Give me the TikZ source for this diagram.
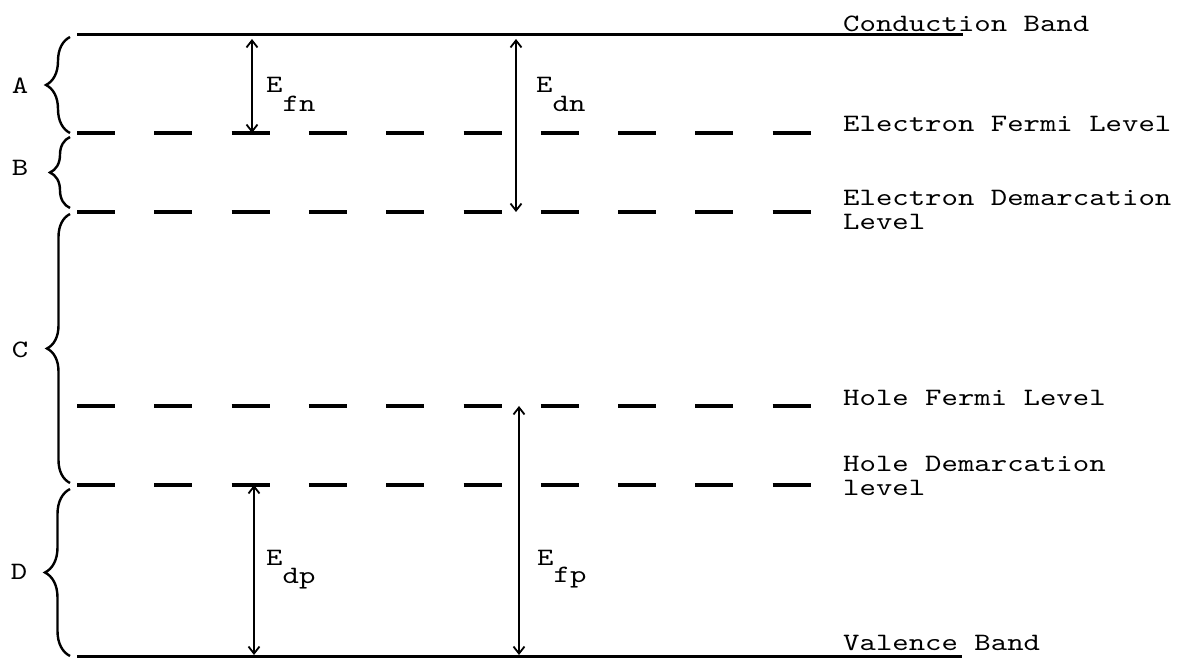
\documentclass[tikz,border=0pt]{standalone}
\usepackage{fontspec}
\newfontfamily\tw{lmmono10-regular.otf}[FakeStretch=1.25]
\usetikzlibrary{arrows.meta,decorations.pathreplacing}
\tikzset{
  band/.style={line width=3pt},
  level/.style={line width=3.6pt, dash pattern=on 38pt off 39.3pt},
  gap/.style={line width=2.2pt, {Straight Barb[length=7pt,width=11pt,line width=1.8pt]}-{Straight Barb[length=7pt,width=11pt,line width=1.8pt]}},
  grp/.style={line width=2.4pt, decorate, decoration={brace, amplitude=#1}},
  lab/.style={font=\fontsize{25}{24}\selectfont\tw, inner sep=0pt, anchor=base west, align=left},
  sym/.style={font=\fontsize{25}{24}\selectfont\tw, inner sep=0pt, anchor=base west},
  let/.style={font=\fontsize{25}{24}\selectfont\tw, inner sep=0pt},
}
\begin{document}
\begin{tikzpicture}[x=1pt,y=-1pt]
\useasboundingbox (0,0) rectangle (1195,660);
% band edges and levels
\coordinate (cbL) at (77,35);  \coordinate (cbR) at (963,35);
\coordinate (efL) at (77,133); \coordinate (efR) at (811,133);
\coordinate (edL) at (77,212); \coordinate (edR) at (811,212);
\coordinate (hfL) at (77,406); \coordinate (hfR) at (811,406);
\coordinate (hdL) at (77,485); \coordinate (hdR) at (811,485);
\coordinate (vbL) at (77,656); \coordinate (vbR) at (962,656);
\draw[band] (cbL) -- (cbR);
\draw[level] (efL) -- (efR);
\draw[level] (edL) -- (edR);
\draw[level] (hfL) -- (hfR);
\draw[level] (hdL) -- (hdR);
\draw[band] (vbL) -- (vbR);
% labels on the right (base anchor = last line)
\node[lab] (cb)  at (843,32)  {Conduction Band};
\node[lab] (efl) at (843,132) {Electron Fermi Level};
\node[lab] (edl) at (843,230) {Electron Demarcation\\Level};
\node[lab] (hfl) at (843,406) {Hole Fermi Level};
\node[lab] (hdl) at (843,495) {Hole Demarcation\\level};
\node[lab] (vb)  at (843,650) {Valence Band};
% braces
\coordinate (bA1) at (70,133); \coordinate (bA2) at (70,37);
\coordinate (bB1) at (70,208); \coordinate (bB2) at (70,137);
\coordinate (bC1) at (70,483); \coordinate (bC2) at (70,214);
\coordinate (bD1) at (70,656); \coordinate (bD2) at (70,489);
\draw[grp=24pt] (bA1) -- (bA2);
\draw[grp=20pt] (bB1) -- (bB2);
\draw[grp=23pt] (bC1) -- (bC2);
\draw[grp=25pt] (bD1) -- (bD2);
\node[let] (A) at (20,86)  {A};
\node[let] (B) at (20,168) {B};
\node[let] (C) at (20,350) {C};
\node[let] (D) at (19,572) {D};
% energy gaps
\coordinate (fnT) at (252,39);  \coordinate (fnB) at (252,133);
\coordinate (dnT) at (516,39);  \coordinate (dnB) at (516,212);
\coordinate (dpT) at (254,485); \coordinate (dpB) at (254,655);
\coordinate (fpT) at (519,406); \coordinate (fpB) at (519,655);
\draw[gap] (fnB) -- (fnT);
\draw[gap] (dnB) -- (dnT);
\draw[gap] (dpT) -- (dpB);
\draw[gap] (fpT) -- (fpB);
\node[sym] (Efn) at (266,93)  {E\raisebox{-19pt}{fn}};
\node[sym] (Edn) at (536,93)  {E\raisebox{-19pt}{dn}};
\node[sym] (Edp) at (266,565) {E\raisebox{-18pt}{dp}};
\node[sym] (Efp) at (537,565) {E\raisebox{-17pt}{fp}};
\end{tikzpicture}
\end{document}
